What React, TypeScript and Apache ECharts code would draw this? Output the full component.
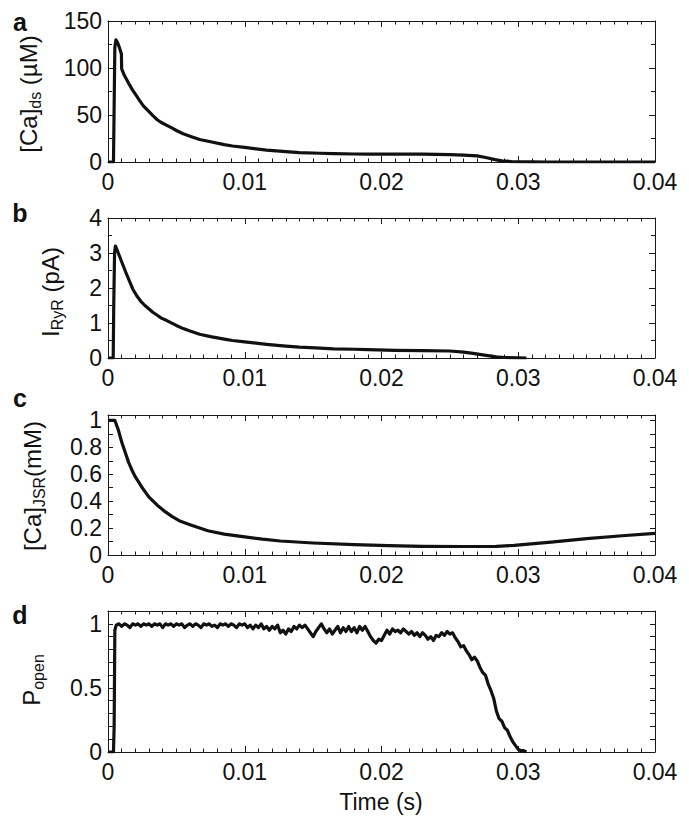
import { useEffect, useRef } from 'react';
import * as echarts from 'echarts';

// ---------- data (time in s) ----------
const timeTickLabels = [0, 0.01, 0.02, 0.03, 0.04];

const caDsTime = [0, 0.0004, 0.00045, 0.0005, 0.00058, 0.0007, 0.00085, 0.00098, 0.001, 0.0012, 0.0015, 0.0018, 0.0021, 0.0023, 0.0026, 0.003, 0.0033, 0.0036, 0.0039, 0.0043, 0.0047, 0.005, 0.0055, 0.006, 0.0067, 0.0075, 0.0085, 0.0091, 0.01, 0.0116, 0.013, 0.014, 0.0155, 0.0165, 0.018, 0.019, 0.0205, 0.0215, 0.023, 0.025, 0.026, 0.027, 0.0277, 0.0283, 0.0288, 0.0295, 0.031, 0.032, 0.04];
const caDsValue = [0, 0, 60, 122, 130, 127, 121, 115, 99, 92, 84, 76.5, 70, 65.5, 59.5, 53.5, 49, 45, 42, 39, 36, 33.5, 30, 27.5, 24, 21.5, 18.5, 17, 15.5, 12.6, 11, 10, 9.3, 8.9, 8.5, 8.4, 8.3, 8.3, 8.3, 7.9, 7.4, 6.5, 4.5, 2.5, 1.2, 0.5, 0.2, 0, 0];
const caDsTicks = [0, 50, 100, 150];

const iRyrTime = [0, 0.00038, 0.00042, 0.00048, 0.00054, 0.00065, 0.00085, 0.0011, 0.0013, 0.0016, 0.0018, 0.0021, 0.0024, 0.0027, 0.003, 0.0033, 0.0036, 0.0039, 0.0043, 0.0047, 0.005, 0.0055, 0.006, 0.0067, 0.0075, 0.0085, 0.0091, 0.01, 0.0116, 0.013, 0.014, 0.0155, 0.0165, 0.018, 0.019, 0.021, 0.023, 0.025, 0.026, 0.0267, 0.0274, 0.0279, 0.0284, 0.029, 0.0306];
const iRyrValue = [0, 0, 1.5, 3.0, 3.2, 3.1, 2.9, 2.65, 2.45, 2.17, 1.98, 1.78, 1.62, 1.5, 1.4, 1.3, 1.22, 1.14, 1.07, 0.99, 0.93, 0.84, 0.77, 0.68, 0.61, 0.54, 0.5, 0.46, 0.39, 0.34, 0.31, 0.28, 0.26, 0.25, 0.24, 0.22, 0.21, 0.2, 0.17, 0.13, 0.09, 0.06, 0.03, 0.015, 0];
const iRyrTicks = [0, 1, 2, 3, 4];

const caJsrTime = [0, 0.0005, 0.00075, 0.001, 0.0013, 0.0015, 0.0018, 0.002, 0.0025, 0.003, 0.0033, 0.0036, 0.0042, 0.0047, 0.0053, 0.006, 0.0067, 0.0073, 0.0085, 0.01, 0.0113, 0.0126, 0.015, 0.018, 0.0205, 0.023, 0.0258, 0.0284, 0.0297, 0.0324, 0.035, 0.0376, 0.04];
const caJsrValue = [1.0, 1.0, 0.93, 0.84, 0.75, 0.69, 0.62, 0.58, 0.5, 0.43, 0.4, 0.37, 0.32, 0.285, 0.25, 0.225, 0.2, 0.18, 0.155, 0.135, 0.118, 0.104, 0.089, 0.077, 0.069, 0.064, 0.063, 0.064, 0.072, 0.096, 0.121, 0.143, 0.16];
const caJsrTicks = [0, 0.2, 0.4, 0.6, 0.8, 1];

const pOpenTime = [0, 0.0004, 0.00045, 0.0005,
  0.0006, 0.0008, 0.001, 0.0012, 0.0014, 0.0016, 0.0018, 0.002, 0.0022, 0.0024, 0.0026, 0.0028, 0.003, 0.0032, 0.0034, 0.0036, 0.0038, 0.004, 0.0042, 0.0044, 0.0046, 0.0048, 0.005, 0.0052, 0.0054, 0.0056, 0.0058, 0.006, 0.0062, 0.0064, 0.0066, 0.0068, 0.007, 0.0072, 0.0074, 0.0076, 0.0078, 0.008, 0.0082, 0.0084, 0.0086, 0.0088, 0.009, 0.0092, 0.0094, 0.0096, 0.0098, 0.01,
  0.0102, 0.0104, 0.0106, 0.0108, 0.011, 0.0112, 0.0114, 0.0116, 0.0118, 0.012, 0.0122, 0.0124, 0.0126, 0.0128, 0.013, 0.0132, 0.0134, 0.0136, 0.0138, 0.014, 0.0142, 0.0144, 0.0146, 0.0148, 0.015, 0.0152, 0.0154, 0.0156, 0.0158, 0.016, 0.0162, 0.0164, 0.0166, 0.0168, 0.017, 0.0172, 0.0174, 0.0176, 0.0178, 0.018, 0.0182, 0.0184, 0.0186, 0.0188, 0.019, 0.0192, 0.0194, 0.0196, 0.0198, 0.02,
  0.0202, 0.0204, 0.0206, 0.0208, 0.021, 0.0212, 0.0214, 0.0216, 0.0218, 0.022, 0.0222, 0.0224, 0.0226, 0.0228, 0.023, 0.0232, 0.0234, 0.0236, 0.0238, 0.024, 0.0242, 0.0244, 0.0246, 0.0248, 0.025, 0.0252, 0.0254, 0.0256, 0.0258, 0.026, 0.0262, 0.0264, 0.0266, 0.0268, 0.027, 0.0272, 0.0274, 0.0276, 0.0278, 0.028, 0.0282, 0.0284, 0.0286, 0.0288, 0.029, 0.0292, 0.0294, 0.0296, 0.0298, 0.03, 0.0302, 0.0304, 0.0306];
const pOpenValue = [0, 0, 0.2, 0.95,
  0.99, 1.0, 0.98, 1.0, 0.99, 0.97, 1.0, 0.99, 1.0, 0.98, 1.0, 0.99, 1.0, 0.98, 1.0, 0.99, 1.0, 0.97, 1.0, 0.99, 1.0, 0.98, 1.0, 0.99, 1.0, 0.97, 0.99, 1.0, 0.98, 1.0, 0.99, 0.97, 1.0, 0.99, 1.0, 0.98, 0.99, 0.97, 1.0, 0.99, 1.0, 0.98, 1.0, 0.99, 0.97, 1.0, 0.99, 1.0,
  0.97, 0.99, 0.96, 0.99, 0.97, 1.0, 0.96, 0.98, 0.95, 0.98, 0.96, 0.99, 0.93, 0.95, 0.92, 0.96, 0.94, 0.98, 0.96, 0.99, 0.97, 0.99, 0.96, 0.93, 0.9, 0.94, 0.97, 1.0, 0.96, 0.93, 0.96, 0.92, 0.95, 0.98, 0.93, 0.97, 0.94, 0.98, 0.94, 0.97, 0.93, 0.98, 0.95, 0.98, 0.94, 0.9, 0.87, 0.85, 0.88, 0.87,
  0.91, 0.95, 0.92, 0.96, 0.94, 0.95, 0.93, 0.96, 0.94, 0.92, 0.94, 0.91, 0.93, 0.9, 0.93, 0.91, 0.88, 0.9, 0.87, 0.91, 0.9, 0.93, 0.91, 0.94, 0.92, 0.93, 0.89, 0.86, 0.82, 0.83, 0.79, 0.76, 0.72, 0.74, 0.71, 0.66, 0.62, 0.6, 0.53, 0.48, 0.42, 0.32, 0.26, 0.24, 0.19, 0.17, 0.12, 0.08, 0.05, 0.02, 0.01, 0.01, 0];
const pOpenTicks = [0, 0.5, 1];

// ---------- styling ----------
const FONT = '"Liberation Sans", Arial, sans-serif';
const AXIS_COLOR = '#1a1a1a';
const TEXT_COLOR = '#111';

const near = (v: number, list: number[]) => list.some((t) => Math.abs(t - v) < 1e-9);
const fmt = (v: number) => String(+v.toFixed(3));

const panels = [
  { grid: { left: 108, top: 21, width: 547, height: 141 }, max: 150, interval: 50, minor: 2, ticks: caDsTicks, time: caDsTime, value: caDsValue },
  { grid: { left: 108, top: 218, width: 547, height: 140 }, max: 4, interval: 1, minor: 2, ticks: iRyrTicks, time: iRyrTime, value: iRyrValue },
  { grid: { left: 108, top: 415, width: 547, height: 140 }, max: 1.04, interval: 0.1, minor: 0, ticks: caJsrTicks, time: caJsrTime, value: caJsrValue },
  { grid: { left: 108, top: 611, width: 547, height: 141 }, max: 1.1, interval: 0.1, minor: 0, ticks: pOpenTicks, time: pOpenTime, value: pOpenValue },
];

function buildOption() {
  const grid: any[] = [];
  const xAxis: any[] = [];
  const yAxis: any[] = [];
  const series: any[] = [];
  panels.forEach((p, i) => {
    grid.push({ ...p.grid, outerBoundsMode: 'none' });
    for (const pos of ['bottom', 'top']) {
      xAxis.push({
        type: 'value',
        gridIndex: i,
        position: pos,
        min: 0,
        max: 0.04,
        interval: 0.01,
        axisLine: { show: true, onZero: false, lineStyle: { color: AXIS_COLOR, width: 1 } },
        axisTick: { show: true, inside: true, length: 6, lineStyle: { color: AXIS_COLOR } },
        minorTick: { show: true, splitNumber: 10, length: 3.5, lineStyle: { color: AXIS_COLOR } },
        splitLine: { show: false },
        minorSplitLine: { show: false },
        axisLabel: {
          show: pos === 'bottom',
          margin: 8,
          fontSize: 23,
          lineHeight: 24,
          fontFamily: FONT,
          color: TEXT_COLOR,
          formatter: (v: number) => (near(v, timeTickLabels) ? fmt(v) : ''),
        },
      });
    }
    for (const pos of ['left', 'right']) {
      yAxis.push({
        type: 'value',
        gridIndex: i,
        position: pos,
        min: 0,
        max: p.max,
        interval: p.interval,
        axisLine: { show: true, onZero: false, lineStyle: { color: AXIS_COLOR, width: 1 } },
        axisTick: { show: true, inside: true, length: p.minor ? 6 : 5, lineStyle: { color: AXIS_COLOR } },
        minorTick: { show: !!p.minor, splitNumber: p.minor || 2, length: 4, lineStyle: { color: AXIS_COLOR } },
        splitLine: { show: false },
        minorSplitLine: { show: false },
        axisLabel: {
          show: pos === 'left',
          margin: 6,
          fontSize: 23,
          lineHeight: 24,
          fontFamily: FONT,
          color: TEXT_COLOR,
          showMaxLabel: true,
          showMinLabel: true,
          formatter: (v: number) => (near(v, p.ticks) ? fmt(v) : ''),
        },
      });
    }
    series.push({
      type: 'line',
      xAxisIndex: 2 * i,
      yAxisIndex: 2 * i,
      data: p.time.map((t, k) => [t, p.value[k]]),
      showSymbol: false,
      symbol: 'none',
      lineStyle: { color: '#111', width: 3.2, join: 'round' },
      z: 5,
    });
  });

  const rich = {
    m: { fontSize: 24, fontFamily: FONT, lineHeight: 30, fill: TEXT_COLOR, color: TEXT_COLOR },
    s: { fontSize: 16, fontFamily: FONT, lineHeight: 14, verticalAlign: 'bottom', fill: TEXT_COLOR, color: TEXT_COLOR },
  };
  const yTitle = (x: number, y: number, text: string) => ({
    type: 'text',
    x,
    y,
    rotation: Math.PI / 2,
    style: { text, rich, align: 'center', verticalAlign: 'middle', fill: TEXT_COLOR, fontSize: 24, fontFamily: FONT },
  });
  const letter = (x: number, y: number, text: string) => ({
    type: 'text',
    x,
    y,
    style: { text, align: 'center', verticalAlign: 'middle', fill: '#111', fontSize: 25, fontWeight: 'bold', fontFamily: FONT },
  });

  const graphic = [
    letter(20, 22, 'a'),
    letter(20, 213, 'b'),
    letter(20, 398, 'c'),
    letter(20, 615, 'd'),
    yTitle(28, 94, '{m|[Ca]}{s|ds}{m| (µM)}'),
    yTitle(50, 292, '{m|I}{s|RyR}{m| (pA)}'),
    yTitle(32, 486, '{m|[Ca]}{s|JSR}{m|(mM)}'),
    yTitle(31, 680, '{m|P}{s|open}'),
    {
      type: 'text',
      x: 381,
      y: 802,
      style: { text: 'Time (s)', align: 'center', verticalAlign: 'middle', fill: TEXT_COLOR, fontSize: 23, fontFamily: FONT },
    },
  ];

  return { animation: false, backgroundColor: '#fff', grid, xAxis, yAxis, series, graphic };
}

export default function App() {
  const ref = useRef<HTMLDivElement>(null);
  useEffect(() => {
    document.body.style.margin = '0';
    const chart = echarts.init(ref.current!, null, { renderer: 'svg' });
    chart.setOption(buildOption() as any);
    return () => chart.dispose();
  }, []);
  return <div ref={ref} style={{ width: 689, height: 827 }} />;
}
